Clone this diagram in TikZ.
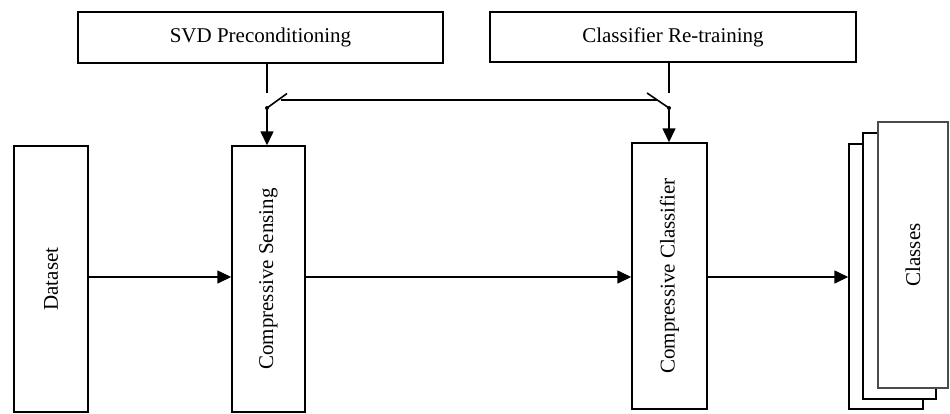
\documentclass[tikz,border=0pt]{standalone}
\usepackage{fontspec}
\setmainfont{Liberation Serif}
\usetikzlibrary{arrows.meta}
\begin{document}
\begin{tikzpicture}[x=1pt,y=-1pt,
  box/.style={draw, line width=1.5pt, fill=white, inner sep=0pt, font=\fontsize{21}{24}\selectfont},
  vbox/.style={box, rotate=90},
  wire/.style={line width=1.6pt},
  arr/.style={wire, -{Triangle[length=14pt,width=13pt]}},
  dotc/.style={circle, fill=black, inner sep=0pt, minimum size=4pt}]
\useasboundingbox (0,0) rectangle (950,413);
% top boxes
\node[box, minimum width=365pt, minimum height=51pt] (svd) at (260.5,37.5) {SVD Preconditioning};
\node[box, minimum width=366pt, minimum height=50pt] (crt) at (673,37) {Classifier Re-training};
% main boxes (rotated: width = vertical extent)
\node[vbox, minimum width=266pt, minimum height=74pt] (data) at (51,279) {Dataset};
\node[vbox, minimum width=266pt, minimum height=73pt] (cs) at (268.5,279) {Compressive Sensing};
\node[vbox, minimum width=266pt, minimum height=75pt] (cc) at (669.5,276) {Compressive Classifier};
% classes stack
\node[draw, line width=1.5pt, fill=white, inner sep=0pt, minimum width=74pt, minimum height=265pt] (cl3) at (886,276.5) {};
\node[draw, line width=1.5pt, fill=white, inner sep=0pt, minimum width=73pt, minimum height=266pt] (cl2) at (899.5,266) {};
\node[vbox, draw=black!70, minimum width=266pt, minimum height=70pt] (cl1) at (913,255) {Classes};
% switch geometry
\coordinate (s1top) at (267,93);
\node[dotc] (s1dot) at (267,108) {};
\coordinate (s1tip) at (287,93.5);
\coordinate (s2top) at (669,93);
\node[dotc] (s2dot) at (669,108) {};
\coordinate (s2tip) at (647,93);
\draw[wire] (svd.south -| s1top) -- (s1top);
\draw[wire] (crt.south -| s2top) -- (s2top);
\draw[wire] (s1dot.center) -- (s1tip);
\draw[wire] (s2dot.center) -- (s2tip);
\draw[wire] (280.5,100) -- (656.5,100);
\draw[arr] (s1dot.center) -- (s1dot.center |- cs.east);
\draw[arr] (s2dot.center) -- (s2dot.center |- cc.east);
% main flow
\draw[arr] (data.south |- 0,277) -- (cs.north |- 0,277);
\draw[arr] (cs.south |- 0,277) -- (cc.north |- 0,277);
\draw[arr] (cc.south |- 0,277) -- (cl3.west |- 0,277);
\end{tikzpicture}
\end{document}
